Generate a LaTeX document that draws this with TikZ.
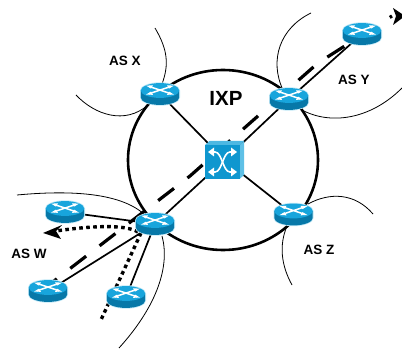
\documentclass[tikz,border=0pt]{standalone}
\usepackage{fontspec}
\setmainfont{Liberation Sans}
\definecolor{rtop}{HTML}{18A5DC}
\definecolor{rside}{HTML}{0778A8}
\definecolor{rglow}{HTML}{BFE8F7}
\definecolor{swfront}{HTML}{0F97CF}
\definecolor{swtop}{HTML}{4DB8E2}
\definecolor{swside}{HTML}{5FC0E6}
\tikzset{
  devbox/.style={inner sep=0pt,minimum width=38pt,minimum height=22pt},
  swbox/.style={inner sep=0pt,minimum width=39pt,minimum height=38pt},
  ring/.style={line width=2.6pt},
  thinedge/.style={line width=0.8pt},
  link/.style={line width=1.7pt},
  dashedflow/.style={line width=3.2pt,dash pattern=on 20pt off 17pt},
  dottedflow/.style={line width=3.4pt,dash pattern=on 3.6pt off 3.4pt},
  headfill/.style={fill=black,draw=none},
  aslabel/.style={font=\bfseries\fontsize{13.5}{15}\selectfont,inner sep=0pt},
  ixplabel/.style={font=\bfseries\fontsize{20.5}{22}\selectfont,inner sep=0pt},
  xarrow/.style={white,line width=1.1pt},
}
\newcommand{\routerart}[1]{%
  \begin{scope}[shift={(#1.center)}]
    \fill[rglow] (-20,-3.5) -- (-20,3.5) arc[start angle=180,end angle=0,x radius=20,y radius=8.2] -- (20,-3.5) arc[start angle=0,end angle=-180,x radius=20,y radius=8.2] -- cycle;
    \fill[rside] (-19.2,-3.5) -- (-19.2,3.5) arc[start angle=180,end angle=0,x radius=19.2,y radius=7.4] -- (19.2,-3.5) -- cycle;
    \fill[rtop] (0,-3.5) ellipse[x radius=19.2,y radius=7.4];
    \draw[xarrow,line width=1.5pt] (-11,-7.6) -- (11,-0.2) (-11,-0.2) -- (11,-7.6);
    \fill[white] (-14,-8.4) -- (-7,-8.6) -- (-9,-5.4) -- cycle;
    \fill[white] (14,-8.4) -- (7,-8.6) -- (9,-5.4) -- cycle;
    \fill[white] (-14,0.6) -- (-7,0.8) -- (-9,-2.4) -- cycle;
    \fill[white] (14,0.6) -- (7,0.8) -- (9,-2.4) -- cycle;
  \end{scope}}
\begin{document}
\begin{tikzpicture}[x=1pt,y=-1pt]
\useasboundingbox (0,0) rectangle (402,350);
\fill[white] (0,0) rectangle (402,350);

\coordinate (arrowA) at (43,233);
\coordinate (dotEnd) at (100,322);
\coordinate (dashStart) at (41,291);
\coordinate (dashKnee) at (190,176);
\coordinate (dashBend) at (318,63);
\coordinate (dashEnd) at (392,16);

% ring
\draw[ring] (223,160) ellipse[x radius=95,y radius=90];

% AS boundaries
\draw[thinedge] (17,195) .. controls (60,191) and (120,190) .. (146,216);
\draw[thinedge] (162,236) .. controls (170,265) and (158,305) .. (119,348);
\draw[thinedge] (155,28) .. controls (168,50) and (169,65) .. (162,84);
\draw[thinedge] (76,95) .. controls (95,115) and (125,125) .. (148,105);
\draw[thinedge] (311,13) .. controls (280,28) and (269,60) .. (283,90);
\draw[thinedge] (302,110) .. controls (330,125) and (370,120) .. (402,88);
\draw[thinedge] (308,204) .. controls (330,192) and (355,193) .. (373,214);
\draw[thinedge] (287,226) .. controls (279,245) and (281,265) .. (292,285);

% device nodes
\node[swbox] (sw) at (224.5,160) {};
\node[devbox] (rx) at (160,94) {};
\node[devbox] (ry) at (289,99) {};
\node[devbox] (ryy) at (362,34) {};
\node[devbox] (rz) at (293.5,214.5) {};
\node[devbox] (rw) at (155,224) {};
\node[devbox] (w1) at (65,212) {};
\node[devbox] (w2) at (48,291) {};
\node[devbox] (w3) at (126,297) {};

% links
\draw[link] (sw.center) -- (rx.center);
\draw[link] (sw.center) -- (ry.center);
\draw[link] (ry.center) -- (ryy.center);
\draw[link] (sw.center) -- (rz.center);
\draw[link] (sw.center) -- (rw.center);
\draw[link] (rw.center) -- (w1.center);
\draw[link] (rw.center) -- (w2.center);
\draw[link] (rw.center) -- (w3.center);

% flows
\draw[dashedflow] (dashStart) -- (dashKnee) -- (dashBend) -- (dashEnd);
\fill[headfill] (393,8) -- (405,16) -- (393,25) -- (396,16) -- cycle;
\draw[dottedflow] (rw.center) ++(-17,8) .. controls (125,224) and (90,226) .. (56,231);
\fill[headfill] (arrowA) -- (62,225) -- (56,231) -- (61,239) -- cycle;
\draw[dottedflow] (rw.center) ++(-14,9) -- (dotEnd);

% devices
\foreach \dev in {rx,ry,ryy,rz,rw,w1,w2,w3}{\routerart{\dev}}

% switch
\fill[swtop] (205,145) -- (209.5,141) -- (244,141) -- (239.5,145) -- cycle;
\fill[swside] (239.5,145) -- (244,141) -- (244,175) -- (239.5,179) -- cycle;
\fill[swfront] (205,145) rectangle (239.5,179);
\draw[xarrow,line width=1.6pt] (212,152) -- (215,152) .. controls (222,152) and (223,172) .. (230,172) -- (233,172);
\draw[xarrow,line width=1.6pt] (212,172) -- (215,172) .. controls (222,172) and (223,152) .. (230,152) -- (233,152);
\foreach \yy in {152,172}{
  \fill[white] (208,\yy) -- (214,\yy-4.5) -- (214,\yy+4.5) -- cycle;
  \fill[white] (237,\yy) -- (231,\yy-4.5) -- (231,\yy+4.5) -- cycle;
}

% labels
\node[ixplabel] (ixp) at (226,98) {IXP};
\node[aslabel] (asx) at (125,61) {AS X};
\node[aslabel] (asy) at (354,80) {AS Y};
\node[aslabel] (asz) at (319,249.5) {AS Z};
\node[aslabel] (asw) at (29,253.5) {AS W};
\end{tikzpicture}
\end{document}
